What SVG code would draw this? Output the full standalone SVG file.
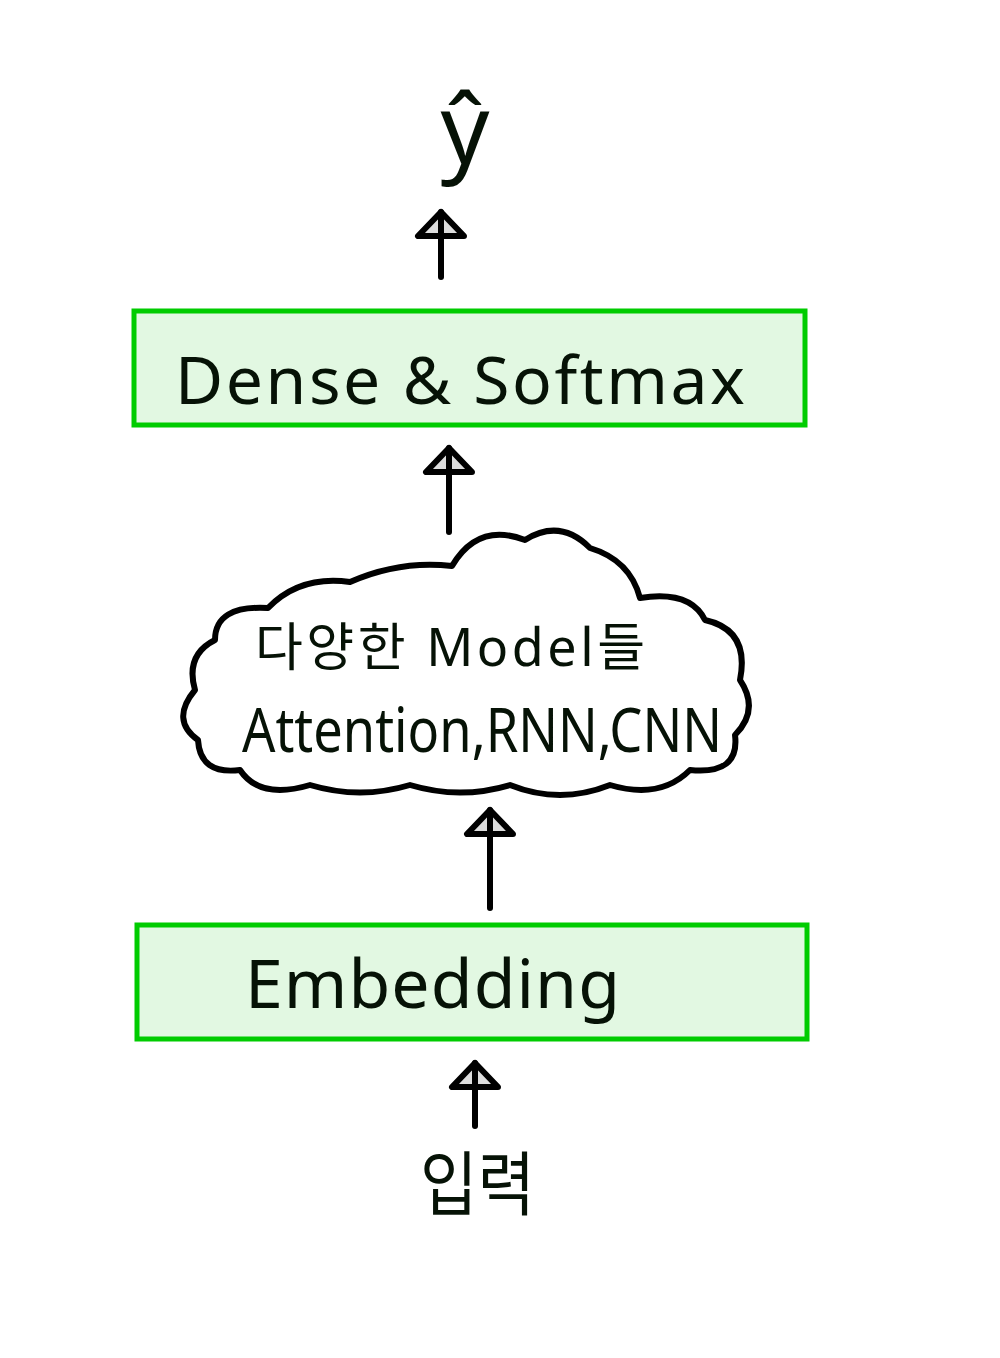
<svg xmlns="http://www.w3.org/2000/svg" width="1000" height="1358" viewBox="0 0 1000 1358">
<style>
.box{fill:#e2f8e2;stroke:#00cc00;stroke-width:5}
.hand{fill:#061206;font-family:"Noto Sans","Noto Sans CJK KR",sans-serif}
.conn{stroke:#000;stroke-width:6;stroke-linecap:round;fill:none}
.cloud{fill:#fff;stroke:#000;stroke-width:6;stroke-linejoin:round}
</style>
<defs>
<marker id="ah" viewBox="-4 -28 38 56" refX="28" refY="0" markerWidth="38" markerHeight="56" markerUnits="userSpaceOnUse" orient="auto">
<polygon points="28,0 4,-23 4,23" fill="#dddddd" stroke="#000" stroke-width="6" stroke-linejoin="round"/>
<line x1="4" y1="0" x2="28" y2="0" stroke="#000" stroke-width="6"/>
</marker>
</defs>
<rect width="1000" height="1358" fill="#fff"/>
<g id="connectors">
<line class="conn" x1="441" y1="277" x2="441" y2="212" marker-end="url(#ah)"/>
<line class="conn" x1="449" y1="532" x2="449" y2="448" marker-end="url(#ah)"/>
<line class="conn" x1="490" y1="908" x2="490" y2="810" marker-end="url(#ah)"/>
<line class="conn" x1="475" y1="1126" x2="475" y2="1063" marker-end="url(#ah)"/>
</g>
<g id="output">
<text class="hand" x="465" y="164" font-size="96" text-anchor="middle">ŷ</text>
</g>
<g id="dense">
<rect class="box" x="134" y="311" width="671" height="114"/>
<text class="hand" x="175" y="404" font-size="66" textLength="570" lengthAdjust="spacing">Dense &amp; Softmax</text>
</g>
<g id="models">
<path class="cloud" d="M452,566 Q478,522 525,540 Q560,518 590,548 Q630,560 640,598 Q690,590 705,620 Q750,630 740,680 Q760,710 735,735 Q740,775 690,770 Q660,800 610,785 Q560,805 510,785 Q460,800 410,785 Q360,800 310,785 Q260,800 240,770 Q200,775 198,740 Q170,720 195,690 Q185,655 215,640 Q215,605 268,608 Q300,575 350,582 Q400,560 452,566 Z"/>
<text class="hand" x="255" y="666" font-size="52" textLength="390" lengthAdjust="spacing">다양한 Model들</text>
<text class="hand" x="242" y="752" font-size="62" textLength="480" lengthAdjust="spacingAndGlyphs">Attention,RNN,CNN</text>
</g>
<g id="embedding">
<rect class="box" x="137" y="925" width="670" height="114"/>
<text class="hand" x="245" y="1008" font-size="68" textLength="375" lengthAdjust="spacing">Embedding</text>
</g>
<g id="input">
<text class="hand" x="420" y="1210" font-size="70" textLength="115" lengthAdjust="spacingAndGlyphs">입력</text>
</g>
</svg>
